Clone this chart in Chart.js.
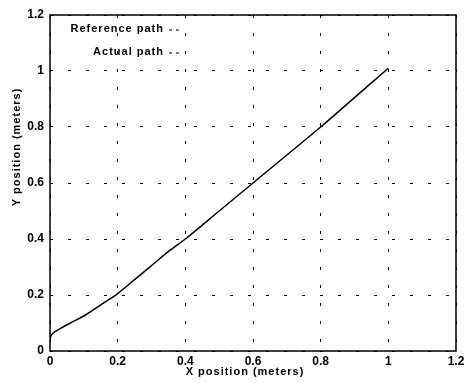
<!DOCTYPE html>
<html>
<head>
<meta charset="utf-8">
<script src="https://cdn.jsdelivr.net/npm/chart.js@4"></script>
<style>
  html, body { margin: 0; padding: 0; background: #fff; }
  #wrap { width: 474px; height: 383px; }
</style>
</head>
<body>
<div id="wrap"><canvas id="pathChart" width="474" height="383"></canvas></div>
<script>
// Datos
const actualX = [0, 0.003, 0.01, 0.03, 0.06, 0.1, 0.15, 0.2, 0.25, 0.3, 0.355, 0.4, 0.5, 0.6, 0.7, 0.8, 0.9, 1.0];
const actualY = [0.04, 0.055, 0.065, 0.08, 0.1, 0.125, 0.165, 0.205, 0.255, 0.305, 0.36, 0.4, 0.5, 0.6, 0.7, 0.8, 0.905, 1.01];
const xTicks = [0, 0.2, 0.4, 0.6, 0.8, 1, 1.2];
const yTicks = [0, 0.2, 0.4, 0.6, 0.8, 1, 1.2];
const legendLabels = ["Reference path", "Actual path"];
const xTitle = "X position (meters)";
const yTitle = "Y position (meters)";

const FONT = "'Liberation Sans', Arial, sans-serif";

// Marco, titulos y leyenda estilo Matlab
const framePlugin = {
  id: "frame",
  afterDraw(chart) {
    const { ctx, chartArea: a } = chart;
    ctx.save();
    ctx.strokeStyle = "#000";
    ctx.lineWidth = 1.5;
    ctx.strokeRect(a.left, a.top, a.right - a.left, a.bottom - a.top);

    ctx.font = "bold 11px " + FONT;
    ctx.fillStyle = "#000";
    ctx.letterSpacing = "1px";
    ctx.textBaseline = "middle";

    // titulos de ejes
    ctx.textAlign = "center";
    ctx.fillText(xTitle, 245, 372);
    ctx.save();
    ctx.translate(17, 147);
    ctx.rotate(-Math.PI / 2);
    ctx.fillText(yTitle, 0, 0);
    ctx.restore();

    // leyenda
    ctx.textAlign = "right";
    const rows = [29, 52];
    legendLabels.forEach((lbl, i) => {
      ctx.fillText(lbl, 164, rows[i]);
      ctx.lineWidth = 1;
      ctx.setLineDash([3, 4]);
      ctx.beginPath();
      ctx.moveTo(169, rows[i] + 1);
      ctx.lineTo(183, rows[i] + 1);
      ctx.stroke();
      ctx.setLineDash([]);
    });
    ctx.restore();
  }
};

const points = actualX.map((x, i) => ({ x: x, y: actualY[i] }));

new Chart(document.getElementById("pathChart"), {
  type: "scatter",
  data: {
    datasets: [{
      label: "Actual path",
      data: points,
      showLine: true,
      borderColor: "#000",
      borderWidth: 1.5,
      pointRadius: 0,
      tension: 0.3,
      fill: false
    }]
  },
  options: {
    responsive: false,
    animation: false,
    layout: { padding: { left: 0, top: 15, right: 18, bottom: 0 } },
    plugins: { legend: { display: false }, tooltip: { enabled: false } },
    scales: {
      x: {
        type: "linear",
        min: 0, max: 1.2,
        afterBuildTicks: s => { s.ticks = xTicks.map(v => ({ value: v })); },
        afterFit: s => { s.height = 32; },
        grid: { color: "#000", lineWidth: 1, drawTicks: false },
        border: { display: false, dash: [3, 15] },
        ticks: {
          color: "#000", padding: 3,
          font: { family: FONT, size: 12, weight: "bold" },
          callback: v => String(v)
        }
      },
      y: {
        type: "linear",
        min: 0, max: 1.2,
        afterBuildTicks: s => { s.ticks = yTicks.map(v => ({ value: v })); },
        afterFit: s => { s.width = 50; },
        grid: { color: "#000", lineWidth: 1, drawTicks: false },
        border: { display: false, dash: [3, 15] },
        ticks: {
          color: "#000", padding: 6,
          font: { family: FONT, size: 12, weight: "bold" },
          callback: v => String(v)
        }
      }
    }
  },
  plugins: [framePlugin]
});
</script>
</body>
</html>
